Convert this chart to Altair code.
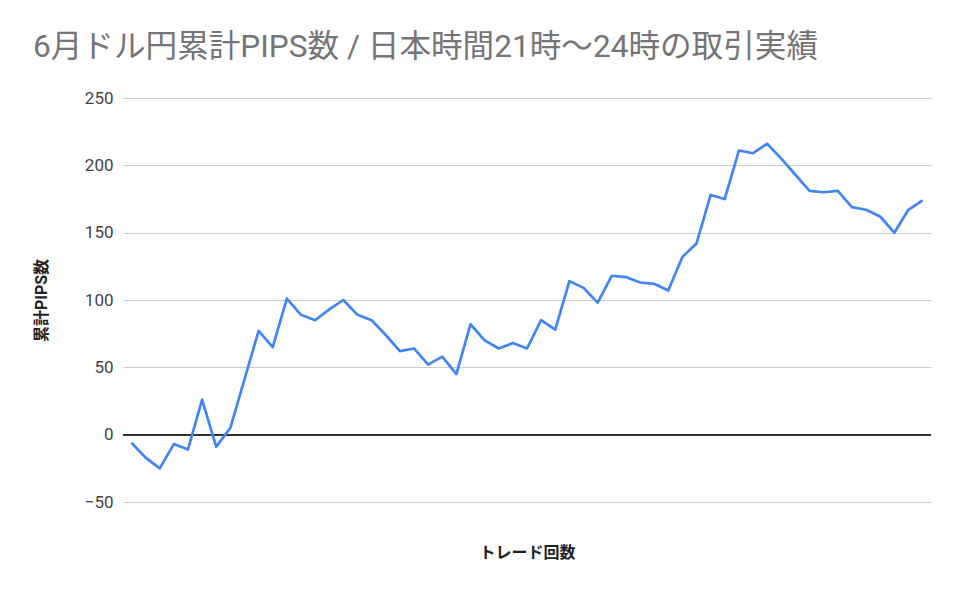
import altair as alt
import pandas as pd

trade_no = list(range(1, 58))
cum_pips = [-6, -17, -25, -7, -11, 26, -9, 5, 41, 77,
            65, 101, 89, 85, 93, 100, 89, 85, 74, 62,
            64, 52, 58, 45, 82, 70, 64, 68, 64, 85,
            78, 114, 109, 98, 118, 117, 113, 112, 107, 132,
            142, 178, 175, 211, 209, 216, 205, 193, 181, 180,
            181, 169, 167, 162, 150, 167, 174]
y_ticks = [-50, 0, 50, 100, 150, 200, 250]

df = pd.DataFrame({"trade": trade_no, "pips": cum_pips})

FONT = "Roboto, Noto Sans CJK JP"

base = alt.Chart(df)

y_axis = alt.Axis(title="累計PIPS数", values=y_ticks, ticks=False, domain=False,
                  grid=True, gridColor="#cccccc", gridWidth=1,
                  labelFont=FONT, labelFontSize=17, labelColor="#444444", labelPadding=10,
                  titleFont=FONT, titleFontSize=16, titleFontWeight="bold",
                  titleColor="#222222", titlePadding=35)

line = base.mark_line(color="#4285F4", strokeWidth=2.7, strokeJoin="round").encode(
    x=alt.X("trade:Q",
            scale=alt.Scale(domain=[0.4, 57.6], nice=False, zero=False),
            axis=alt.Axis(title="トレード回数", labels=False, ticks=False, domain=False,
                          grid=False, titleFont=FONT, titleFontSize=16, titleFontWeight="bold",
                          titleColor="#222222", titlePadding=42)),
    y=alt.Y("pips:Q", scale=alt.Scale(domain=[-50, 250], nice=False), axis=y_axis),
)

zero = base.mark_rule(color="#333333", strokeWidth=1).encode(
    y=alt.Y(datum=0, axis=y_axis)
)

chart = alt.layer(zero, line).properties(
    width=808,
    height=404,
    padding={"left": 115, "top": 90, "right": 21, "bottom": 70},
    autosize=alt.AutoSizeParams(type="none"),
    title=alt.TitleParams(
        "6月ドル円累計PIPS数 / 日本時間21時～24時の取引実績",
        anchor="start", frame="group", dx=-90, offset=25,
        font=FONT, fontSize=31.6, fontWeight="normal", color="#757575",
    ),
).configure_view(stroke=None)

chart.save("out.html", embed_options={"renderer": "svg", "actions": False})
